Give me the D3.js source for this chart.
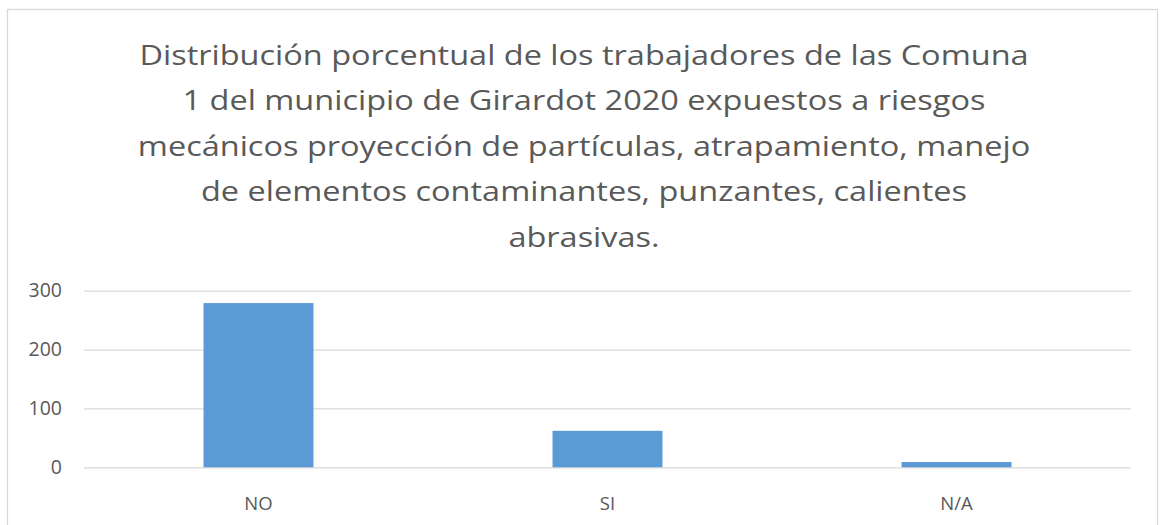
<!DOCTYPE html>
<html>
<head>
<meta charset="utf-8">
<script src="https://cdn.jsdelivr.net/npm/d3@7"></script>
<style>
  body { margin: 0; background: #fff; }
  text { font-family: "Open Sans", sans-serif; fill: #595959; }
</style>
</head>
<body>
<svg id="chart" width="1162" height="525"></svg>
<script>
const categories = ['NO', 'SI', 'N/A'];
const values = [279, 62, 9];
const yTicks = [0, 100, 200, 300];
const titleLines = [
  'Distribución porcentual de los trabajadores de las Comuna',
  '1 del municipio de Girardot 2020 expuestos a riesgos',
  'mecánicos proyección de partículas, atrapamiento, manejo',
  'de elementos contaminantes, punzantes, calientes',
  'abrasivas.'
];

const svg = d3.select('#chart');
const plotLeft = 84, plotRight = 1131, plotTop = 290.7, plotBottom = 467.3;

// chart frame
svg.append('rect')
  .attr('x', 7.5).attr('y', 9.5)
  .attr('width', 1150).attr('height', 540)
  .attr('fill', 'none')
  .attr('stroke', '#d9d9d9')
  .attr('stroke-width', 1.3);

// title, squeezed horizontally to get close to Calibri widths
const title = svg.append('g');
titleLines.forEach((line, i) => {
  title.append('text')
    .attr('x', 0)
    .attr('y', 65 + i * 45.5)
    .attr('text-anchor', 'middle')
    .attr('font-size', 27)
    .text(line);
});
let widest = 0;
title.selectAll('text').each(function() {
  widest = Math.max(widest, this.getComputedTextLength());
});
const sx = 893 / widest;
title.attr('transform', `translate(584,0) scale(${sx},1)`);

const x = d3.scaleBand()
  .domain(categories)
  .range([plotLeft, plotRight])
  .paddingInner(0.685)
  .paddingOuter(0.685 / 2);

const y = d3.scaleLinear()
  .domain([0, 300])
  .range([plotBottom, plotTop]);

// gridlines + y labels
const yAxis = svg.append('g')
  .attr('transform', `translate(${plotLeft},0)`)
  .call(d3.axisLeft(y).tickValues(yTicks).tickSize(-(plotRight - plotLeft)).tickPadding(22));
yAxis.select('.domain').remove();
yAxis.selectAll('.tick line').attr('stroke', '#d9d9d9').attr('stroke-width', 1.3);
yAxis.selectAll('.tick text')
  .attr('font-size', 19.5)
  .attr('font-family', '"Open Sans", sans-serif')
  .attr('fill', '#595959');

// bars
svg.selectAll('.bar')
  .data(values)
  .enter().append('rect')
  .attr('class', 'bar')
  .attr('x', (d, i) => x(categories[i]))
  .attr('y', d => y(d))
  .attr('width', x.bandwidth())
  .attr('height', d => y(0) - y(d))
  .attr('fill', '#5b9bd5');

// x axis labels
const xAxis = svg.append('g')
  .attr('transform', `translate(0,${plotBottom})`)
  .call(d3.axisBottom(x).tickSize(0).tickPadding(30));
xAxis.select('.domain').remove();
xAxis.selectAll('.tick text')
  .attr('font-size', 18.5)
  .attr('font-family', '"Open Sans", sans-serif')
  .attr('fill', '#595959');
</script>
</body>
</html>
